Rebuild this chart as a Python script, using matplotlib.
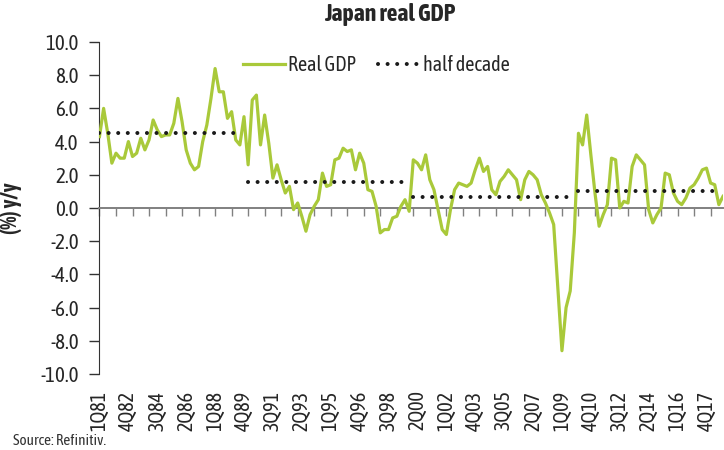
import numpy as np
import matplotlib.pyplot as plt
from matplotlib import font_manager

# pick a narrow sans with a regular and a bold face, if one is installed
fonts = font_manager.fontManager.ttflist


def weight_num(w):
    return w if isinstance(w, int) else font_manager.weight_dict.get(w, 400)


families = {}
for f in fonts:
    if 'Narrow' in f.name or 'Condensed' in f.name:
        families.setdefault(f.name, set()).add(weight_num(f.weight))
good = sorted(k for k, v in families.items() if 400 in v and max(v) >= 700)
dejavu_cond = any(f.name == 'DejaVu Sans' and 'condensed' in str(f.stretch) for f in fonts)
if good:
    base_font, stretch, scale = good[0], 'normal', 1.0
elif dejavu_cond:
    base_font, stretch, scale = 'DejaVu Sans', 'condensed', 0.92
else:
    base_font, stretch, scale = 'Liberation Sans', 'normal', 0.86
plt.rcParams['font.family'] = [base_font, 'DejaVu Sans']
plt.rcParams['font.stretch'] = stretch

# quarterly y/y growth, 1Q81 onwards
start_year = 1981
real_gdp = [
    4.3, 6.0, 4.5, 2.7, 3.3, 3.0, 3.0, 4.0, 3.1, 3.3,
    4.2, 3.5, 4.1, 5.3, 4.7, 4.3, 4.4, 4.4, 5.1, 6.6,
    5.2, 3.5, 2.7, 2.3, 2.5, 4.0, 5.0, 6.6, 8.4, 7.0,
    7.0, 5.4, 5.8, 4.1, 3.8, 5.5, 2.6, 6.5, 6.8, 3.8,
    5.6, 3.9, 1.8, 2.6, 1.7, 0.9, 1.3, -0.1, 0.3, -0.5,
    -1.4, -0.4, 0.1, 0.5, 2.1, 1.3, 1.4, 2.9, 3.0, 3.6,
    3.4, 3.5, 2.3, 3.3, 2.7, 1.1, 1.0, 0.1, -1.5, -1.3,
    -1.3, -0.6, -0.5, 0.1, 0.5, -0.2, 2.9, 2.7, 2.3, 3.2,
    1.7, 1.1, -0.1, -1.3, -1.6, -0.1, 1.1, 1.5, 1.4, 1.3,
    1.5, 2.3, 3.0, 2.2, 2.5, 1.1, 0.8, 1.6, 1.9, 2.3,
    2.0, 1.7, 0.5, 1.7, 2.2, 2.0, 1.7, 0.8, 0.3, -0.3,
    -1.0, -4.8, -8.6, -6.0, -5.0, -1.5, 4.5, 3.8, 5.6, 3.2,
    0.9, -1.1, -0.4, 0.2, 3.0, 2.9, 0.0, 0.4, 0.3, 2.5,
    3.2, 2.9, 2.6, -0.1, -0.9, -0.4, 0.0, 2.1, 2.0, 0.9,
    0.4, 0.2, 0.6, 1.2, 1.4, 1.8, 2.3, 2.4, 1.5, 1.4,
    0.2, 0.7,
]

# period averages ("half decade" line)
period_end_years = [1989, 1999, 2009, 2018]
period_levels = [4.5, 1.55, 0.68, 1.04]

n = len(real_gdp)
years = [start_year + i // 4 for i in range(n)]
quarters = [i % 4 + 1 for i in range(n)]
labels = [f"{q}Q{y % 100:02d}" for y, q in zip(years, quarters)]

half_decade = []
for y, q in zip(years, quarters):
    k = next(j for j, e in enumerate(period_end_years) if y <= e)
    half_decade.append(np.nan if (y == period_end_years[k] and q == 4) else period_levels[k])

x = np.arange(n)
green = '#A9C93A'
dark = '#262626'
fs = 14.5 * scale

fig = plt.figure(figsize=(7.24, 4.5), dpi=100)
ax = fig.add_axes([0.1374, 0.169, 0.8612, 0.7377])

ax.plot(x, real_gdp, color=green, lw=2.3, label='Real GDP', zorder=3)
ax.plot(x, half_decade, color='#1a1a1a', lw=2.9, linestyle=(0, (0.01, 2.37)),
        dash_capstyle='round', label='half decade', zorder=4)

ax.set_xlim(0, n - 1)
ax.set_ylim(-10, 10)
ax.set_yticks(np.arange(-10, 10.1, 2))
ax.set_yticklabels([f"{v:.1f}" for v in np.arange(-10, 10.1, 2)])
ax.tick_params(axis='y', direction='out', length=7, width=1.0, colors='#333333',
               labelcolor=dark, labelsize=fs + 0.5, pad=8)

for s in ['top', 'right']:
    ax.spines[s].set_visible(False)
ax.spines['left'].set_color('#333333')
ax.spines['bottom'].set_position(('data', 0))
ax.spines['bottom'].set_color('#808080')
ax.spines['bottom'].set_linewidth(1.4)

ax.set_xticks(x[::4])
ax.tick_params(axis='x', direction='out', length=6, width=1.0, colors='#808080',
               labelbottom=False)

sec = ax.secondary_xaxis('bottom')
sec.set_xticks(x[::7], labels=labels[::7])
sec.tick_params(length=0, pad=12, labelsize=fs, labelcolor=dark, rotation=90)
sec.spines['bottom'].set_visible(False)

ax.set_ylabel('(%) y/y', fontsize=fs + 1, fontweight='bold', color=dark)
ax.yaxis.set_label_coords(-0.125, 0.5)

ax.legend(loc='center left', bbox_to_anchor=(0.23, 0.93), ncol=2, frameon=False,
          fontsize=fs, handlelength=2.1, handletextpad=0.12, columnspacing=1.1,
          borderpad=0, borderaxespad=0, labelcolor=dark)

fig.text(390 / 724, 1 - 14 / 450, 'Japan real GDP', ha='center', va='center',
         fontsize=17 * scale, fontweight='bold', color=dark)
fig.text(13 / 724, 1 - 441 / 450, 'Source: Refinitiv.', ha='left', va='center',
         fontsize=11 * scale, color='#333333')

fig.savefig('out.png', dpi=100)
